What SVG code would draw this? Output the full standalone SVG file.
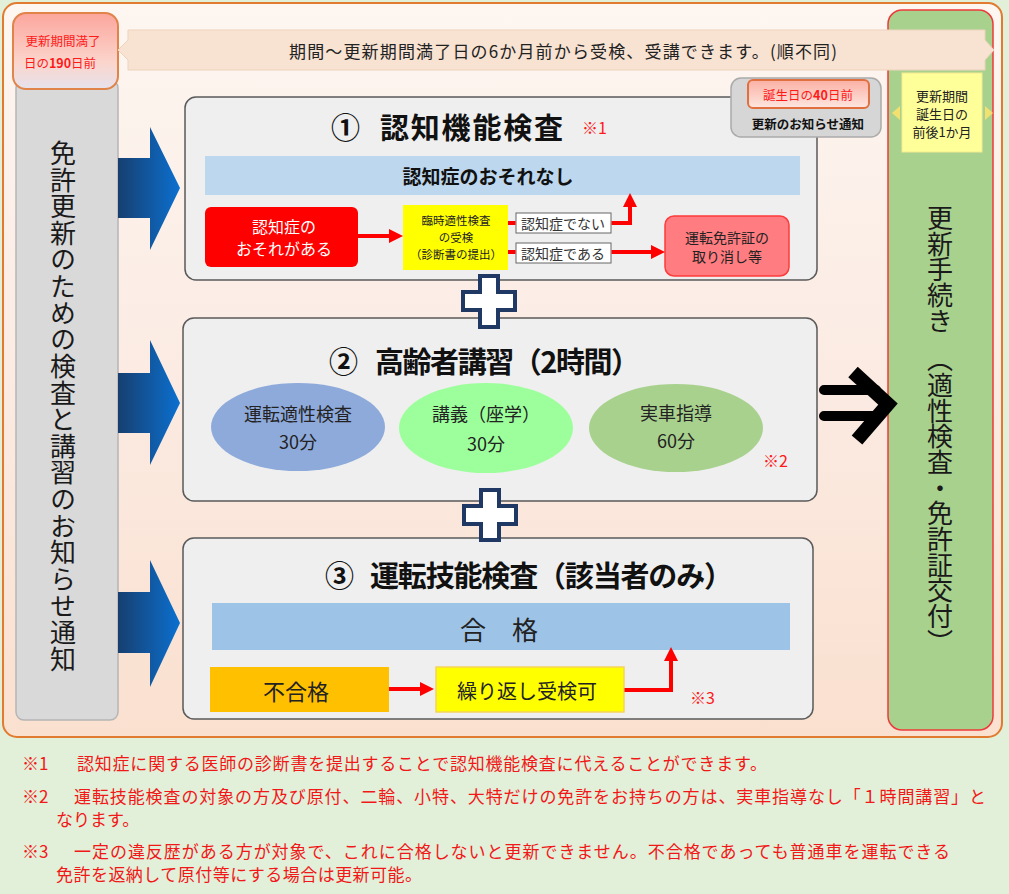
<svg xmlns="http://www.w3.org/2000/svg" width="1009" height="894" viewBox="0 0 1009 894">
<defs>
<style>
text{font-family:"Noto Sans CJK JP","Noto Sans CJK SC",sans-serif;dominant-baseline:central;}
.mid{text-anchor:middle;}
.b{font-weight:bold;}
.red{fill:#ff1a1a;}
.note{fill:#f01818;font-size:17px;}
.box{fill:#efefef;stroke:#5a5a5a;stroke-width:1.5;}
.plus{fill:#ffffff;stroke:#1f3864;stroke-width:4;stroke-linejoin:miter;}
.rl{fill:none;stroke:#ff0000;stroke-width:4;}
.vt{writing-mode:vertical-rl;font-size:26px;fill:#1a1a1a;}
</style>
<linearGradient id="frameG" x1="0" y1="0" x2="0" y2="1">
<stop offset="0" stop-color="#fdf6f1"/>
<stop offset="0.5" stop-color="#fbebe3"/>
<stop offset="1" stop-color="#fae0cf"/>
</linearGradient>
<linearGradient id="pinkG" x1="0" y1="0" x2="0" y2="1">
<stop offset="0" stop-color="#fca59c"/>
<stop offset="0.65" stop-color="#fbd5cc"/>
<stop offset="1" stop-color="#e6e2ec"/>
</linearGradient>
<linearGradient id="pink2G" x1="0" y1="0" x2="0" y2="1">
<stop offset="0" stop-color="#fbb0a4"/>
<stop offset="1" stop-color="#fde6df"/>
</linearGradient>
<linearGradient id="blueG" x1="0" y1="0" x2="1" y2="0">
<stop offset="0" stop-color="#173f70"/>
<stop offset="1" stop-color="#0b70d0"/>
</linearGradient>
<marker id="ah" markerUnits="userSpaceOnUse" markerWidth="14" markerHeight="14" refX="4" refY="7" orient="auto">
<path d="M0,0 L14,7 L0,14 z" fill="#ff0000"/>
</marker>
</defs>

<rect x="0" y="0" width="1009" height="894" fill="#e2efd9"/>

<g id="frame">
<rect x="3" y="3" width="999" height="734" rx="14" fill="url(#frameG)" stroke="#e07b30" stroke-width="2"/>
</g>

<g id="left-column">
<rect x="16" y="80" width="102" height="640" rx="8" fill="#d9d9d9" stroke="#b5b5b5" stroke-width="1.5"/>
<text class="vt" x="63" y="140" textLength="532" lengthAdjust="spacing">免許更新のための検査と講習のお知らせ通知</text>
</g>

<g id="start-190">
<rect x="13" y="13" width="105" height="76" rx="13" fill="url(#pinkG)" stroke="#e0844a" stroke-width="2"/>
<text class="mid red" x="63" y="40" font-size="12.5">更新期間満了</text>
<text class="mid red" x="60" y="62" font-size="12.5">日の<tspan font-weight="bold">190</tspan>日前</text>
</g>

<g id="right-column">
<rect x="888" y="10" width="105" height="720" rx="14" fill="#a9d18e" stroke="#ee3a3a" stroke-width="1.5"/>
<text class="vt" x="940" y="205" textLength="450" lengthAdjust="spacing">更新手続き　（適性検査・免許証交付）</text>
</g>

<g id="period-band">
<polygon points="128,30 985,30 985,40 994,50 985,60 985,70 128,70 128,60 118,50 128,40" fill="#f8e2d2" stroke="#ecd3bd" stroke-width="1"/>
<text class="mid" x="563" y="50" font-size="17" fill="#222" textLength="548" lengthAdjust="spacing">期間～更新期間満了日の6か月前から受検、受講できます。(順不同)</text>
</g>

<g id="renewal-period">
<rect x="902" y="73" width="80" height="79" fill="#ffff99" stroke="#f3ea90" stroke-width="1"/>
<polygon points="900,106 900,120 892,113" fill="#f2e070"/>
<polygon points="985,106 985,120 993,113" fill="#f2e070"/>
<text class="mid" x="942" y="95" font-size="13" fill="#222">更新期間</text>
<text class="mid" x="942" y="113" font-size="13" fill="#222">誕生日の</text>
<text class="mid" x="942" y="131" font-size="13" fill="#222">前後1か月</text>
</g>

<g id="blue-arrows">
<polygon points="118,158 150,158 150,127 180,188 150,250 150,218 118,218" fill="url(#blueG)"/>
<polygon points="118,373 150,373 150,340 180,403 150,465 150,433 118,433" fill="url(#blueG)"/>
<polygon points="118,592 150,592 150,560 180,623 150,687 150,653 118,653" fill="url(#blueG)"/>
</g>

<g id="box1">
<rect class="box" x="185" y="97" width="632" height="183" rx="11"/>
<text x="0" y="126" font-size="29" fill="#111" class="b"><tspan x="331">①</tspan><tspan x="380" textLength="183" lengthAdjust="spacing">認知機能検査</tspan></text>
<text class="red" x="582" y="127" font-size="16">※1</text>
<rect x="205" y="156" width="595" height="39" fill="#bdd7ee"/>
<text class="mid b" x="488" y="175" font-size="19" fill="#111">認知症のおそれなし</text>
</g>

<g id="notice-40">
<rect x="731" y="78" width="150" height="59" rx="10" fill="#d6d6d6" stroke="#aaaaaa" stroke-width="1.5"/>
<rect x="748" y="80" width="121" height="28" rx="5" fill="url(#pink2G)" stroke="#e07040" stroke-width="2"/>
<text class="mid red" x="808" y="94" font-size="12.5">誕生日の<tspan font-weight="bold">40</tspan>日前</text>
<text class="mid b" x="808" y="123" font-size="12.5" fill="#111">更新のお知らせ通知</text>
</g>

<g id="dementia-risk">
<rect x="205" y="207" width="153" height="60" rx="6" fill="#ff0000"/>
<text class="mid" x="284" y="226" font-size="16" fill="#ffffff">認知症の</text>
<text class="mid" x="284" y="248" font-size="16" fill="#ffffff">おそれがある</text>
</g>

<g id="temp-test">
<rect x="403" y="205" width="105" height="65" fill="#ffff00"/>
<text class="mid" x="456" y="220" font-size="11.5" fill="#222">臨時適性検査</text>
<text class="mid" x="456" y="237" font-size="11.5" fill="#222">の受検</text>
<text class="mid" x="456" y="254" font-size="11.5" fill="#222">（診断書の提出）</text>
</g>

<g id="not-dementia">
<rect x="516" y="213" width="95" height="20" fill="#ffffff" stroke="#666" stroke-width="1"/>
<text class="mid" x="563" y="223" font-size="14" fill="#333">認知症でない</text>
</g>
<g id="is-dementia">
<rect x="516" y="243" width="95" height="20" fill="#ffffff" stroke="#666" stroke-width="1"/>
<text class="mid" x="563" y="253" font-size="14" fill="#333">認知症である</text>
</g>

<g id="revoke">
<rect x="665" y="216" width="124" height="60" rx="9" fill="#ff7c80" stroke="#ff3a3a" stroke-width="1.5"/>
<text class="mid" x="727" y="237" font-size="14" fill="#222">運転免許証の</text>
<text class="mid" x="727" y="256" font-size="14" fill="#222">取り消し等</text>
</g>

<g id="box2">
<rect class="box" x="183" y="318" width="634" height="183" rx="11"/>
<text x="0" y="360" font-size="29" fill="#111" class="b"><tspan x="329">②</tspan><tspan x="375" textLength="265" lengthAdjust="spacing">高齢者講習（2時間）</tspan></text>
<ellipse cx="298" cy="427" rx="87" ry="44" fill="#8eaadb"/>
<text class="mid" x="298" y="413" font-size="18" fill="#222">運転適性検査</text>
<text class="mid" x="298" y="441" font-size="18" fill="#222">30分</text>
<ellipse cx="486" cy="428" rx="87" ry="45" fill="#9cff9c"/>
<text class="mid" x="486" y="413" font-size="18" fill="#222">講義（座学）</text>
<text class="mid" x="486" y="443" font-size="18" fill="#222">30分</text>
<ellipse cx="676" cy="428" rx="87" ry="44" fill="#a9d18e"/>
<text class="mid" x="676" y="412" font-size="18" fill="#222">実車指導</text>
<text class="mid" x="676" y="440" font-size="18" fill="#222">60分</text>
<text class="red" x="763" y="460" font-size="16">※2</text>
</g>

<g id="box3">
<rect class="box" x="183" y="538" width="630" height="181" rx="11"/>
<text x="0" y="574" font-size="29" fill="#111" class="b"><tspan x="325">③</tspan><tspan x="370" textLength="363" lengthAdjust="spacing">運転技能検査（該当者のみ）</tspan></text>
<rect x="212" y="603" width="578" height="47" fill="#9dc3e6"/>
<text class="mid" x="499" y="628" font-size="26" fill="#222">合　格</text>
<text class="red" x="690" y="697" font-size="16">※3</text>
</g>

<g id="fail">
<rect x="210" y="667" width="179" height="45" fill="#ffc000"/>
<text class="mid" x="296" y="690" font-size="22" fill="#222">不合格</text>
</g>
<g id="retry">
<rect x="436" y="667" width="188" height="45" fill="#ffff00" stroke="#f5d45a" stroke-width="1.5"/>
<text class="mid" x="527" y="690" font-size="20" fill="#222">繰り返し受検可</text>
</g>

<g id="connectors">
<path class="rl" d="M358,236 H393" marker-end="url(#ah)"/>
<path class="rl" d="M508,223 H515.5"/>
<path class="rl" d="M508,252 H515.5"/>
<path class="rl" d="M611.5,223 H630 V203" marker-end="url(#ah)"/>
<path class="rl" d="M611.5,252 H655" marker-end="url(#ah)"/>
<path class="rl" d="M389,689 H424" marker-end="url(#ah)"/>
<path class="rl" d="M624.5,690 H671 V657" marker-end="url(#ah)"/>
</g>

<g id="plus-signs">
<path class="plus" d="M480,276 H498 V292 H515 V310 H498 V327 H480 V310 H463 V292 H480 Z"/>
<path class="plus" d="M481,490 H499 V506 H516 V524 H499 V540 H481 V524 H464 V506 H481 Z"/>
</g>

<g id="big-arrow">
<path d="M824,390 H876 M824,416 H876" stroke="#000" stroke-width="10" stroke-linecap="round" fill="none"/>
<path d="M853,372 L888,404 L857,440" stroke="#000" stroke-width="14" fill="none" stroke-linejoin="miter"/>
</g>

<g id="footnotes">
<text class="note" x="22" y="762">※1<tspan x="77" textLength="690" lengthAdjust="spacing">認知症に関する医師の診断書を提出することで認知機能検査に代えることができます。</tspan></text>
<text class="note" x="22" y="795">※2<tspan x="74" textLength="912" lengthAdjust="spacing">運転技能検査の対象の方及び原付、二輪、小特、大特だけの免許をお持ちの方は、実車指導なし「１時間講習」と</tspan></text>
<text class="note" x="56" y="818">なります。</text>
<text class="note" x="22" y="850">※3<tspan x="74" textLength="876" lengthAdjust="spacing">一定の違反歴がある方が対象で、これに合格しないと更新できません。不合格であっても普通車を運転できる</tspan></text>
<text class="note" x="56" y="873" textLength="366" lengthAdjust="spacing">免許を返納して原付等にする場合は更新可能。</text>
</g>
</svg>
